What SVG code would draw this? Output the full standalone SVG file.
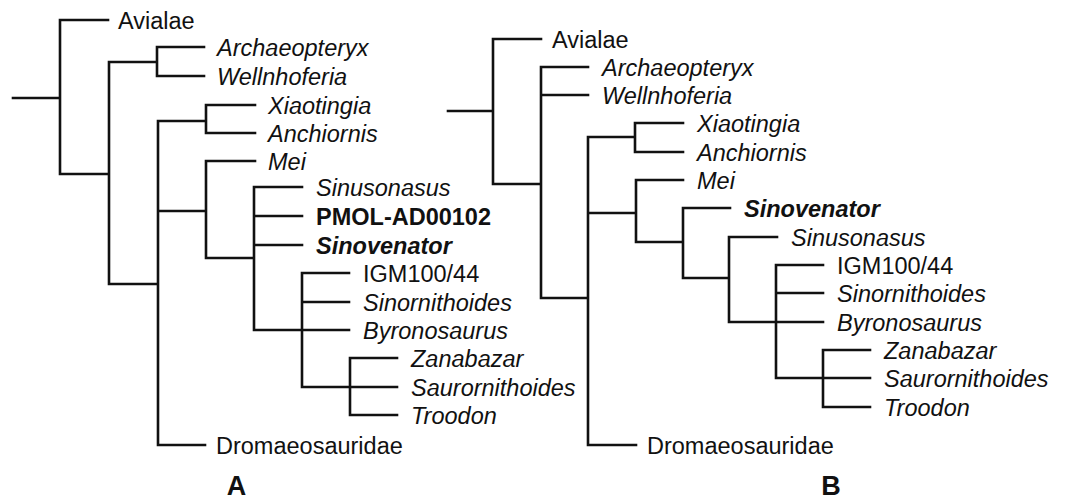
<svg xmlns="http://www.w3.org/2000/svg" width="1069" height="500" viewBox="0 0 1069 500">
<style>
.e{fill:none;stroke:#111;stroke-width:2.6;stroke-linecap:square;stroke-linejoin:miter}
text{font-family:"Liberation Sans",Arial,sans-serif;font-size:23.5px;fill:#111}
.i{font-style:italic}
.b{font-weight:bold}
.lab{font-weight:bold;font-size:27px;text-anchor:middle}
</style>
<rect width="1069" height="500" fill="#fff"/>
<g id="connectors">
<g id="edges-A">
<path class="e" d="M13,98H60M60,20V174M60,20H108M60,174H109M109,62V284M109,62H157M157,47V76M157,47H204M157,76H204M109,284H158M158,121V445M158,445H205M158,121H206M206,105V133M206,105H255M206,133H255M158,211H206M206,161V258M206,161H255M206,258H254M254,187V330M254,187H302M254,216H302M254,245H302M254,330H349M302,273V387M302,273H349M302,302H349M302,387H350M350,358V415M350,358H397M350,387H397M350,415H397"/>
</g>
<g id="edges-B">
<path class="e" d="M448,111H493M493,39V184M493,39H541M493,184H541M541,67V298M541,67H588M541,95H588M541,298H588M588,137V445M588,445H636M588,137H635M635,123V152M635,123H683M635,152H683M588,213H636M636,180V242M636,180H683M636,242H683M683,208V278M683,208H730M683,278H729M729,237V322M729,237H777M729,322H823M776,265V378M776,265H823M776,293H823M776,378H823M823,350V407M823,350H870M823,378H870M823,407H870"/>
</g>
</g>
<g id="tree-A">
<g id="A-Avialae"><text x="118" y="29">Avialae</text></g>
<g id="A-Archaeopteryx"><text class="i" x="217" y="56">Archaeopteryx</text></g>
<g id="A-Wellnhoferia"><text class="i" x="217" y="85">Wellnhoferia</text></g>
<g id="A-Xiaotingia"><text class="i" x="268" y="114">Xiaotingia</text></g>
<g id="A-Anchiornis"><text class="i" x="268" y="142">Anchiornis</text></g>
<g id="A-Mei"><text class="i" x="268" y="170">Mei</text></g>
<g id="A-Sinusonasus"><text class="i" x="316" y="196">Sinusonasus</text></g>
<g id="A-PMOL"><text class="b" x="316" y="225">PMOL-AD00102</text></g>
<g id="A-Sinovenator"><text class="i b" x="316" y="254">Sinovenator</text></g>
<g id="A-IGM"><text x="363" y="282">IGM100/44</text></g>
<g id="A-Sinornithoides"><text class="i" x="363" y="311">Sinornithoides</text></g>
<g id="A-Byronosaurus"><text class="i" x="363" y="339">Byronosaurus</text></g>
<g id="A-Zanabazar"><text class="i" x="411" y="367">Zanabazar</text></g>
<g id="A-Saurornithoides"><text class="i" x="411" y="396">Saurornithoides</text></g>
<g id="A-Troodon"><text class="i" x="411" y="424">Troodon</text></g>
<g id="A-Dromaeosauridae"><text x="216" y="454">Dromaeosauridae</text></g>
<g id="label-A"><text class="lab" x="236.5" y="495">A</text></g>
</g>
<g id="tree-B">
<g id="B-Avialae"><text x="552" y="48">Avialae</text></g>
<g id="B-Archaeopteryx"><text class="i" x="602" y="76">Archaeopteryx</text></g>
<g id="B-Wellnhoferia"><text class="i" x="602" y="104">Wellnhoferia</text></g>
<g id="B-Xiaotingia"><text class="i" x="697" y="132">Xiaotingia</text></g>
<g id="B-Anchiornis"><text class="i" x="697" y="161">Anchiornis</text></g>
<g id="B-Mei"><text class="i" x="697" y="189">Mei</text></g>
<g id="B-Sinovenator"><text class="i b" x="744" y="217">Sinovenator</text></g>
<g id="B-Sinusonasus"><text class="i" x="791" y="246">Sinusonasus</text></g>
<g id="B-IGM"><text x="837" y="274">IGM100/44</text></g>
<g id="B-Sinornithoides"><text class="i" x="837" y="302">Sinornithoides</text></g>
<g id="B-Byronosaurus"><text class="i" x="837" y="331">Byronosaurus</text></g>
<g id="B-Zanabazar"><text class="i" x="884" y="359">Zanabazar</text></g>
<g id="B-Saurornithoides"><text class="i" x="884" y="387">Saurornithoides</text></g>
<g id="B-Troodon"><text class="i" x="884" y="416">Troodon</text></g>
<g id="B-Dromaeosauridae"><text x="647" y="454">Dromaeosauridae</text></g>
<g id="label-B"><text class="lab" x="831" y="495">B</text></g>
</g>
</svg>
